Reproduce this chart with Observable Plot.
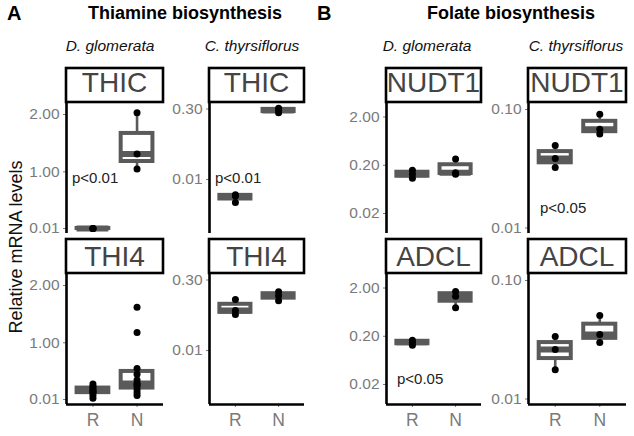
<!DOCTYPE html>
<html><head><meta charset="utf-8">
<script src="https://cdn.jsdelivr.net/npm/d3@7"></script>
<script src="https://cdn.jsdelivr.net/npm/@observablehq/plot@0.6"></script>
<style>
body{margin:0;background:#fff;}
#fig{position:relative;width:634px;height:436px;overflow:hidden;background:#fff;font-family:"Liberation Sans",Arial,sans-serif;}
#fig .pl{position:absolute;}
#overlay{position:absolute;left:0;top:0;}
</style></head><body><div id="fig"></div>
<script>
// ---------- data ----------
const groups = ["R", "N"];
const panelLetters = ["A", "B"];
const pathways = ["Thiamine biosynthesis", "Folate biosynthesis"];
const species = ["D. glomerata", "C. thyrsiflorus"];
const genesThiamine = ["THIC", "THI4"];
const genesFolate = ["NUDT1", "ADCL"];
const yLabel = "Relative mRNA levels";

// Thiamine, D. glomerata
const THIC_Dg_R = [0.012, 0.010, 0.009];
const THIC_Dg_N = [2.03, 1.31, 1.05];
const THI4_Dg_R = [0.03, 0.08, 0.13, 0.14, 0.16, 0.18, 0.21, 0.24, 0.28];
const THI4_Dg_N = [0.08, 0.13, 0.18, 0.24, 0.27, 0.29, 0.35, 0.45, 0.55, 1.18, 1.62];
// Thiamine, C. thyrsiflorus
const THIC_Ct_R = [0.0048, 0.0045, 0.0033];
const THIC_Ct_N = [0.31, 0.28, 0.25];
const THI4_Ct_R = [0.117, 0.069, 0.057];
const THI4_Ct_N = [0.17, 0.14, 0.11];
// Folate, D. glomerata
const NUDT1_Dg_R = [0.157, 0.13, 0.107];
const NUDT1_Dg_N = [0.27, 0.14, 0.13];
const ADCL_Dg_R = [0.165, 0.15, 0.13];
const ADCL_Dg_N = [1.70, 1.35, 0.78];
// Folate, C. thyrsiflorus
const NUDT1_Ct_R = [0.0497, 0.0386, 0.0324];
const NUDT1_Ct_N = [0.091, 0.068, 0.062];
const ADCL_Ct_R = [0.0337, 0.0262, 0.0177];
const ADCL_Ct_N = [0.0506, 0.035, 0.030];

// y tick values per column
const ticksCol1 = [0.01, 1, 2];
const ticksCol2 = [0.01, 0.3];
const ticksCol3 = [0.02, 0.2, 2];
const ticksCol4 = [0.01, 0.1];

const pLabels = ["p<0.01", "p<0.01", "p<0.05", "p<0.05"];

// ---------- layout ----------
const GRAY = "#5a5a5a";
const FONT = "'Liberation Sans', Arial, Helvetica, sans-serif";
const cols = [
  {x0: 66,  w: 97, type: "linear", domain: [-0.077, 2.21],   ticks: ticksCol1},
  {x0: 209, w: 95, type: "log",    domain: [0.000738, 0.411], ticks: ticksCol2},
  {x0: 386, w: 95, type: "log",    domain: [0.0077, 4.0],     ticks: ticksCol3},
  {x0: 528, w: 98, type: "log",    domain: [0.00899, 0.1146], ticks: ticksCol4}
];
const rows = [{stripTop: 68, top: 102, base: 92}, {stripTop: 239, top: 273, base: 266}];
const PH = 131, ML = 50;

const panels = [
  {row: 0, col: 0, gene: genesThiamine[0], R: THIC_Dg_R, N: THIC_Dg_N},
  {row: 1, col: 0, gene: genesThiamine[1], R: THI4_Dg_R, N: THI4_Dg_N},
  {row: 0, col: 1, gene: genesThiamine[0], R: THIC_Ct_R, N: THIC_Ct_N},
  {row: 1, col: 1, gene: genesThiamine[1], R: THI4_Ct_R, N: THI4_Ct_N},
  {row: 0, col: 2, gene: genesFolate[0], R: NUDT1_Dg_R, N: NUDT1_Dg_N},
  {row: 1, col: 2, gene: genesFolate[1], R: ADCL_Dg_R, N: ADCL_Dg_N},
  {row: 0, col: 3, gene: genesFolate[0], R: NUDT1_Ct_R, N: NUDT1_Ct_N},
  {row: 1, col: 3, gene: genesFolate[1], R: ADCL_Ct_R, N: ADCL_Ct_N}
];

function boxStats(vals, i) {
  const s = vals.slice().sort(d3.ascending);
  const q1 = d3.quantile(s, 0.25), med = d3.quantile(s, 0.5), q3 = d3.quantile(s, 0.75);
  const iqr = q3 - q1;
  const lo = d3.min(s.filter(v => v >= q1 - 1.5 * iqr));
  const hi = d3.max(s.filter(v => v <= q3 + 1.5 * iqr));
  return {x: i + 1, q1, med, q3, lo, hi};
}

const fig = document.getElementById("fig");

// overlay text / strips
const ns = "http://www.w3.org/2000/svg";
const ov = document.createElementNS(ns, "svg");
ov.setAttribute("id", "overlay");
ov.setAttribute("width", 634); ov.setAttribute("height", 436);
fig.appendChild(ov);
function txt(str, x, y, opts = {}) {
  const t = document.createElementNS(ns, "text");
  t.textContent = str;
  t.setAttribute("x", x); t.setAttribute("y", y);
  t.setAttribute("font-family", FONT);
  t.setAttribute("font-size", opts.size || 15);
  t.setAttribute("fill", opts.fill || "#111");
  t.setAttribute("text-anchor", opts.anchor || "start");
  if (opts.weight) t.setAttribute("font-weight", opts.weight);
  if (opts.style) t.setAttribute("font-style", opts.style);
  if (opts.transform) t.setAttribute("transform", opts.transform);
  ov.appendChild(t);
  return t;
}

// panel letters and titles
txt(panelLetters[0], 7, 20, {size: 20, weight: "bold", fill: "#000"});
txt(panelLetters[1], 317, 20, {size: 20, weight: "bold", fill: "#000"});
txt(pathways[0], 185, 19, {size: 18, weight: "bold", anchor: "middle", fill: "#000"});
txt(pathways[1], 511, 19, {size: 18, weight: "bold", anchor: "middle", fill: "#000"});
// species
const spX = [110, 252, 427, 576];
spX.forEach((x, i) => txt(species[i % 2], x, 51, {size: 15.5, style: "italic", anchor: "middle", fill: "#111"}));
// y label
txt(yLabel, 0, 0, {size: 18, anchor: "middle", fill: "#111", transform: "translate(22,247) rotate(-90)"});

// strips
panels.forEach(p => {
  const c = cols[p.col], r = rows[p.row];
  const rect = document.createElementNS(ns, "rect");
  rect.setAttribute("x", c.x0); rect.setAttribute("y", r.stripTop);
  rect.setAttribute("width", c.w); rect.setAttribute("height", r.top - r.stripTop);
  rect.setAttribute("fill", "#fff"); rect.setAttribute("stroke", "#000"); rect.setAttribute("stroke-width", 2.6);
  ov.appendChild(rect);
  txt(p.gene, c.x0 + c.w / 2, r.base, {size: 28, anchor: "middle", fill: "#444"});
});

// panels
panels.forEach(p => {
  const c = cols[p.col], r = rows[p.row];
  const bottom = p.row === 1;
  const MB = bottom ? 32 : 0;
  const data = [...p.R.map(v => ({g: 1, v})), ...p.N.map(v => ({g: 2, v}))];
  const stats = [p.R, p.N].map(boxStats);
  const marks = [
    Plot.ruleX(stats, {x: "x", y1: "lo", y2: "q1", stroke: GRAY, strokeWidth: 2.6}),
    Plot.ruleX(stats, {x: "x", y1: "q3", y2: "hi", stroke: GRAY, strokeWidth: 2.6}),
    Plot.rect(stats, {x1: d => d.x - 0.36, x2: d => d.x + 0.36, y1: "q1", y2: "q3", fill: "#fff", stroke: GRAY, strokeWidth: 4}),
    Plot.ruleY(stats, {y: "med", x1: d => d.x - 0.36, x2: d => d.x + 0.36, stroke: GRAY, strokeWidth: 6}),
    Plot.dot(data, {x: "g", y: "v", r: 3.5, fill: "#000"}),
    Plot.ruleX([0.4], {stroke: "#000", strokeWidth: 2.6})
  ];
  if (bottom) marks.push(Plot.ruleY([c.domain[0]], {stroke: "#000", strokeWidth: 2.6}));
  const chart = Plot.plot({
    width: ML + c.w, height: PH + MB,
    marginLeft: ML, marginRight: 0, marginTop: 0, marginBottom: MB,
    style: {fontFamily: FONT, fontSize: "15.5px", color: "#7a7a7a", background: "transparent", overflow: "visible"},
    x: {domain: [0.4, 2.6], ticks: [1, 2], tickFormat: d => groups[d - 1], axis: bottom ? "bottom" : null, label: null, tickSize: 3, tickPadding: 6},
    y: {type: c.type, domain: c.domain, ticks: c.ticks, tickFormat: d3.format(".2f"), label: null, tickSize: 3, tickPadding: 4},
    marks
  });
  const wrap = document.createElement("div");
  wrap.className = "pl";
  wrap.style.left = (c.x0 - ML) + "px";
  wrap.style.top = r.top + "px";
  wrap.appendChild(chart);
  fig.appendChild(wrap);
  if (bottom) {
    chart.querySelectorAll("text").forEach(t => {
      if (groups.includes(t.textContent)) t.setAttribute("font-size", "17.5");
    });
  }
});

// p-values (annotation text)
const pPos = [[72, 183], [215, 183], [540, 213], [397, 384]];
pPos.forEach((pp, i) => txt(pLabels[i], pp[0], pp[1], {size: 15, fill: "#222"}));
</script></body></html>
